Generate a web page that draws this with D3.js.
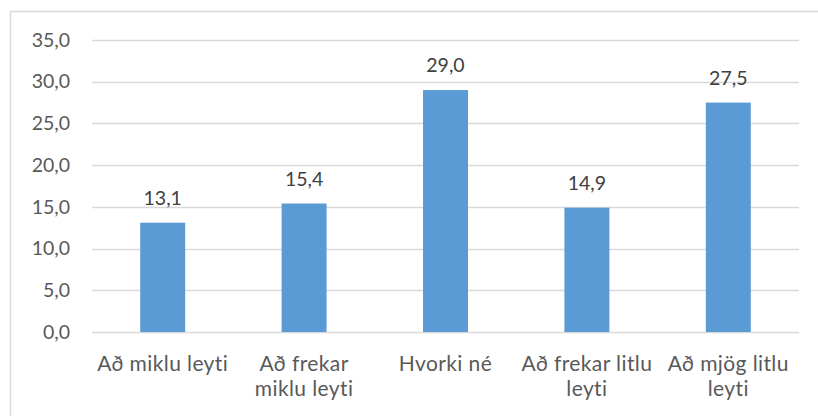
<!DOCTYPE html>
<html>
<head>
<meta charset="utf-8">
<script src="https://cdn.jsdelivr.net/npm/d3@7/dist/d3.min.js"></script>
<style>
  html, body { margin: 0; padding: 0; background: #ffffff; }
  svg { display: block; }
</style>
</head>
<body>
<svg id="chart" width="818" height="416"></svg>
<script>
// Survey answer categories (two-line labels split on "|")
const categories = ["Að miklu leyti", "Að frekar|miklu leyti", "Hvorki né", "Að frekar litlu|leyti", "Að mjög litlu|leyti"];
// Percentage of respondents per category
const values = [13.1, 15.4, 29.0, 14.9, 27.5];
// Y-axis ticks
const yTicks = [0, 5, 10, 15, 20, 25, 30, 35];

const fmt = v => v.toFixed(1).replace(".", ",");

const svg = d3.select("#chart");
const W = 818, H = 416;
const margin = { left: 92, right: 19, top: 40, bottom: 84 };
const fontFamily = "Lato, 'Open Sans', sans-serif";

// Outer chart frame
svg.append("rect")
  .attr("x", 10.5).attr("y", 11.5)
  .attr("width", W).attr("height", H)
  .attr("fill", "#ffffff")
  .attr("stroke", "#d9d9d9").attr("stroke-width", 1.5);

const x = d3.scaleBand()
  .domain(categories)
  .range([margin.left, W - margin.right])
  .padding(0);

const y = d3.scaleLinear()
  .domain([0, 35])
  .range([H - margin.bottom, margin.top]);

const barW = x.bandwidth() * 0.318;

// Horizontal gridlines
svg.append("g")
  .selectAll("line")
  .data(yTicks)
  .join("line")
  .attr("x1", margin.left).attr("x2", W - margin.right)
  .attr("y1", d => Math.round(y(d)) + 0.5).attr("y2", d => Math.round(y(d)) + 0.5)
  .attr("stroke", "#d9d9d9").attr("stroke-width", 1.3);

// Y axis tick labels
const yAxis = d3.axisLeft(y).tickValues(yTicks).tickFormat(fmt).tickSize(0).tickPadding(22);
const gy = svg.append("g").attr("transform", `translate(${margin.left},0)`).call(yAxis);
gy.select(".domain").remove();
gy.selectAll("text")
  .attr("fill", "#595959")
  .style("font-family", fontFamily)
  .style("font-size", "19.5px");

// Bars
svg.append("g")
  .selectAll("rect")
  .data(values)
  .join("rect")
  .attr("x", (d, i) => x(categories[i]) + x.bandwidth() / 2 - barW / 2)
  .attr("width", barW)
  .attr("y", d => y(d))
  .attr("height", d => y(0) - y(d))
  .attr("fill", "#5b9bd5");

// Value labels above the bars
svg.append("g")
  .selectAll("text")
  .data(values)
  .join("text")
  .attr("x", (d, i) => x(categories[i]) + x.bandwidth() / 2)
  .attr("y", d => y(d) - 18)
  .attr("text-anchor", "middle")
  .attr("fill", "#404040")
  .style("font-family", fontFamily)
  .style("font-size", "19.5px")
  .text(d => fmt(d));

// X axis category labels
const gx = svg.append("g");
categories.forEach(c => {
  const t = gx.append("text")
    .attr("x", x(c) + x.bandwidth() / 2)
    .attr("y", y(0) + 39)
    .attr("text-anchor", "middle")
    .attr("fill", "#595959")
    .style("font-family", fontFamily)
    .style("font-size", "21px")
    .style("letter-spacing", "0.4px");
  c.split("|").forEach((line, j) => {
    t.append("tspan")
      .attr("x", x(c) + x.bandwidth() / 2)
      .attr("dy", j === 0 ? 0 : 25)
      .text(line);
  });
});
</script>
</body>
</html>
